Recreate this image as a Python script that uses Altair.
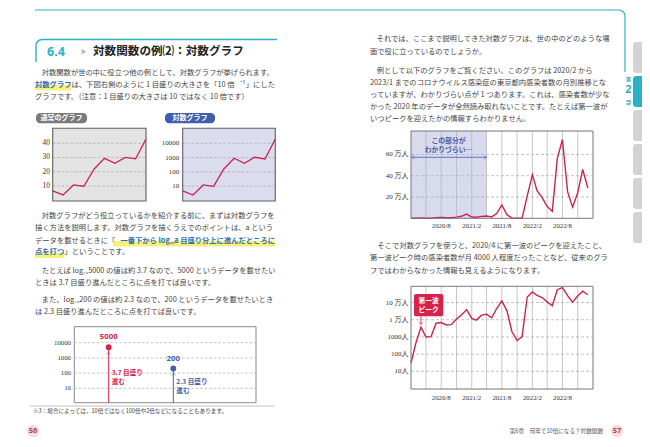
import altair as alt
import pandas as pd

# ---------------- data ----------------
months = pd.date_range("2020-02-01", "2023-01-01", freq="MS")
tokyo_cases = [30, 430, 3750, 1000, 1050, 6300, 6900, 5000, 5200, 11000, 19000,
               39000, 12000, 9500, 18500, 21000, 13000, 45000, 126000, 33000, 2000, 620, 1040,
               210000, 410000, 260000, 195000, 110000, 65000, 560000, 740000, 250000, 105000,
               240000, 460000,
               285000]
grid_months = pd.date_range("2020-05-01", "2022-11-01", freq="3MS")
xtick_months = pd.to_datetime(["2020-08-01", "2021-02-01", "2021-08-01", "2022-02-01", "2022-08-01"])
xtick_labels = ["2020/8", "2021/2", "2021/8", "2022/2", "2022/8"]
lin_ticks = [200000, 400000, 600000]
lin_tick_labels = ["20 万人", "40 万人", "60 万人"]
log_ticks = [10, 100, 1000, 10000, 100000]
log_tick_labels = ["10人", "100人", "1000人", "1 万人", "10 万人"]
hard_span = pd.to_datetime(["2020-02-01", "2021-05-01"])
peak_month = pd.to_datetime(["2020-04-01"])
peak_cases = [3750]

step = list(range(1, 11))
normal_values = [6.5, 3.7, 10.7, 9.8, 21.9, 29.4, 25.9, 30.1, 29.0, 43.0]
log_values = [4.5, 2.3, 11.8, 9.5, 157, 885, 394, 1040, 790, 20100]
normal_ticks = [10, 20, 30, 40]
small_log_ticks = [10, 100, 1000, 10000]

demo_labels = ["5000", "200"]
demo_values = [5000, 200]
demo_ticks = [10, 100, 1000, 10000]

# ---------------- tables ----------------
df_cases = pd.DataFrame({"month": months, "cases": tokyo_cases})
df_grid = pd.DataFrame({"month": grid_months})
df_xt = pd.DataFrame({"month": xtick_months, "label": xtick_labels})
df_lin = pd.DataFrame({"v": lin_ticks, "label": lin_tick_labels})
df_logt = pd.DataFrame({"v": log_ticks, "label": log_tick_labels})
df_hard = pd.DataFrame({"start": [hard_span[0]], "end": [hard_span[1]]})
df_peak = pd.DataFrame({"month": peak_month, "cases": peak_cases})
df_norm = pd.DataFrame({"step": step, "v": normal_values})
df_slog = pd.DataFrame({"step": step, "v": log_values})
df_nt = pd.DataFrame({"v": normal_ticks, "label": [str(t) for t in normal_ticks]})
df_lt = pd.DataFrame({"v": small_log_ticks, "label": [str(t) for t in small_log_ticks]})
df_demo = pd.DataFrame({"label": demo_labels, "value": demo_values})
df_dt = pd.DataFrame({"v": demo_ticks, "label": [str(t) for t in demo_ticks]})

# ---------------- style ----------------
JP = "Noto Sans CJK JP"
SERIF = "Liberation Serif, Noto Sans CJK JP"
INK = "#444444"
TEAL = "#2bb1c6"
RED = "#c8254d"
HL_BLUE = "#2b6fb6"
HL_YELLOW = "#f7f07c"
GRID = "#a8a8a8"
FRAME = "#777777"
BODY = 7.3
OFF = 8


def P(v):
    return v - OFF


ONE = alt.InlineData(values=[{"k": 0}])


def text(s, x, y, size=BODY, color=INK, weight="normal", align="left", font=JP):
    return alt.Chart(ONE).mark_text(text=s, align=align, baseline="middle", fontSize=size,
                                    font=font, fontWeight=weight, color=color).encode(
        x=alt.value(P(x)), y=alt.value(P(y)))


def box(x1, y1, x2, y2, **kw):
    return alt.Chart(ONE).mark_rect(**kw).encode(
        x=alt.value(P(x1)), x2=alt.value(P(x2)), y=alt.value(P(y1)), y2=alt.value(P(y2)))


def seg(x1, y1, x2, y2, **kw):
    return alt.Chart(ONE).mark_rule(**kw).encode(
        x=alt.value(P(x1)), x2=alt.value(P(x2)), y=alt.value(P(y1)), y2=alt.value(P(y2)))


def corner(cx, cy, t1, t2, r=6, w=1.3, color=TEAL):
    return alt.Chart(ONE).mark_arc(theta=t1, theta2=t2, radius=r, radius2=r - w, color=color).encode(
        x=alt.value(P(cx)), y=alt.value(P(cy)))


layers = []

# ---------------- page decorations ----------------
layers += [
    seg(35, 10, 619, 10, color=TEAL, strokeWidth=1.2),
    corner(619, 16, 0, 1.5708, r=6.6, w=1.2),
    seg(625, 16, 625, 72, color=TEAL, strokeWidth=1.2),
    # section header frame
    seg(42, 39.5, 277, 39.5, color=TEAL, strokeWidth=1.4),
    corner(42, 45.5, 4.7124, 6.2832, r=6.7, w=1.4),
    seg(36, 45.5, 36, 62, color=TEAL, strokeWidth=1.4),
]
# right tabs
for (a, b), col in zip([(42, 73), (76, 107), (110, 141), (144, 175), (178, 209), (212, 243)],
                       ["#d3d3d3", TEAL, "#d3d3d3", "#d3d3d3", "#d3d3d3", "#d3d3d3"]):
    layers.append(box(633, a, 652, b, color=col, cornerRadius=3))
layers += [
    text("第", 628.5, 78.5, size=5, color=TEAL, align="center", weight="bold"),
    text("2", 628.5, 89.5, size=11, color=TEAL, align="center", weight="bold", font="Noto Sans"),
    text("部", 628.5, 101.5, size=5, color=TEAL, align="center", weight="bold"),
]

# header text
layers += [
    text("6.4", 47, 51.7, size=12.5, color=TEAL, weight="bold", font="Noto Sans"),
    alt.Chart(ONE).mark_point(shape="triangle-right", size=28, filled=True, color="#b5b5b5",
                              opacity=1).encode(x=alt.value(P(84)), y=alt.value(P(51.7))),
    text("対数関数の例⑵：対数グラフ", 93, 51.7, size=11.6, color="#222222", weight="bold"),
]

# ---------------- left page text ----------------
layers += [
    text("対数関数が世の中に役立つ他の例として、対数グラフが挙げられます。", 41.7, 72.7),
    box(35, 85, 71.5, 90.5, color=HL_YELLOW),
    text("対数グラフ", 35, 85, color=HL_BLUE, weight="bold"),
    text("は、下図右側のように 1 目盛りの大きさを「10 倍", 71.5, 85),
    text("*3", 240.5, 82.5, size=4.5),
    text("」にした", 275, 85, align="right"),
    text("グラフです。（注意：1 目盛りの大きさは 10 ではなく 10 倍です）", 35, 97.3),

    text("対数グラフがどう役立っているかを紹介する前に、まずは対数グラフを", 41.7, 216),
    text("描く方法を説明します。対数グラフを描くうえでのポイントは、a という", 35, 228.3),
    box(113, 241, 275, 246.5, color=HL_YELLOW),
    text("データを載せるときに「", 35, 240.7),
    text("一番下から log₁₀a 目盛り分上に進んだところに", 275, 240.7, color=HL_BLUE, weight="bold",
         align="right"),
    box(35, 252.5, 64.5, 258, color=HL_YELLOW),
    text("点を打つ", 35, 252.3, color=HL_BLUE, weight="bold"),
    text("」ということです。", 64.5, 252.3),
    text("たとえば log₁₀5000 の値は約 3.7 なので、5000 というデータを載せたい", 41.7, 271),
    text("ときは 3.7 目盛り進んだところに点を打てば良いです。", 35, 282.7),
    text("また、log₁₀200 の値は約 2.3 なので、200 というデータを載せたいとき", 41.7, 300),
    text("は 2.3 目盛り進んだところに点を打てば良いです。", 35, 311.7),
    seg(30, 406, 275, 406, color="#9a9a9a", strokeWidth=0.6),
    text("※3：場合によっては，10倍ではなく100倍や2倍などになることもあります。", 33, 410.5, size=5.6),
]

# ---------------- right page text ----------------
layers += [
    text("それでは、ここまで説明してきた対数グラフは、世の中のどのような場", 376.7, 39.3),
    text("面で役に立っているのでしょうか。", 370, 51.7),
    text("例として以下のグラフをご覧ください。このグラフは 2020/2 から", 376.7, 71),
    text("2023/1 までのコロナウイルス感染症の東京都内感染者数の月別推移とな", 370, 82.7),
    text("っていますが、わかりづらい点が 1 つあります。これは、感染者数が少な", 370, 95),
    text("かった 2020 年のデータが全然読み取れないことです。たとえば第一波が", 370, 107.3),
    text("いつピークを迎えたかの情報すらわかりません。", 370, 119.3),
    text("そこで対数グラフを使うと、2020/4 に第一波のピークを迎えたこと、", 377.5, 246),
    text("第一波ピーク時の感染者数が月 4000 人程度だったことなど、従来のグラ", 370, 258.3),
    text("フではわからなかった情報も見えるようになります。", 370, 270.7),
]

# ---------------- footer ----------------
layers += [
    alt.Chart(ONE).mark_circle(size=160, color="#fadcdc", opacity=1).encode(
        x=alt.value(P(33)), y=alt.value(P(431))),
    text("56", 33, 431, size=7.5, color="#b0473c", weight="bold", align="center", font="Noto Sans"),
    alt.Chart(ONE).mark_circle(size=160, color="#fadcdc", opacity=1).encode(
        x=alt.value(P(617)), y=alt.value(P(431))),
    text("57", 617, 431, size=7.5, color="#b0473c", weight="bold", align="center", font="Noto Sans"),
    text("第6章　何年で10倍になる？対数関数", 603, 431, size=5.6, color="#555555", align="right"),
]

# ---------------- small charts (left page) ----------------
SXN = alt.Scale(domain=[1, 10], range=[P(52.7), P(146)], nice=False, zero=False)
SYN = alt.Scale(domain=[0, 50.5], range=[P(200.2), P(128.3)], nice=False, zero=False)
SXL = alt.Scale(domain=[1, 10], range=[P(182.7), P(275.3)], nice=False, zero=False)
SYL = alt.Scale(type="log", domain=[0.883, 113000], range=[P(201), P(128.3)], nice=False)

layers += [
    box(36, 113, 87, 123.3, color="#7a7a7a", cornerRadius=4),
    text("通常のグラフ", 61.5, 118.2, size=7, color="white", weight="bold", align="center"),
    box(165, 113, 215, 123.3, color="#3d5fae", cornerRadius=4),
    text("対数グラフ", 190, 118.2, size=7, color="white", weight="bold", align="center"),
    box(52.7, 128.3, 146, 201, color="#e4e4e4"),
    box(182.7, 128.3, 275.3, 201, color="#dcdcef"),
    alt.Chart(df_nt).mark_rule(color=GRID, strokeDash=[2.5, 2], strokeWidth=0.7).encode(
        y=alt.Y("v:Q", scale=SYN, axis=None), x=alt.value(P(52.7)), x2=alt.value(P(146))),
    alt.Chart(df_nt).mark_text(align="right", baseline="middle", fontSize=7.4, font=SERIF,
                               color="#333333").encode(
        y=alt.Y("v:Q", scale=SYN, axis=None), x=alt.value(P(50)), text="label:N"),
    alt.Chart(df_norm).mark_line(color=RED, strokeWidth=1.3).encode(
        x=alt.X("step:Q", scale=SXN, axis=None), y=alt.Y("v:Q", scale=SYN, axis=None)),
    box(52.7, 128.3, 146, 201, fillOpacity=0, stroke="#5f5f5f", strokeWidth=1.1),
    alt.Chart(df_lt).mark_rule(color=GRID, strokeDash=[2.5, 2], strokeWidth=0.7).encode(
        y=alt.Y("v:Q", scale=SYL, axis=None), x=alt.value(P(182.7)), x2=alt.value(P(275.3))),
    alt.Chart(df_lt).mark_text(align="right", baseline="middle", fontSize=7, font=SERIF,
                               color="#333333").encode(
        y=alt.Y("v:Q", scale=SYL, axis=None), x=alt.value(P(179.3)), text="label:N"),
    alt.Chart(df_slog).mark_line(color=RED, strokeWidth=1.3).encode(
        x=alt.X("step:Q", scale=SXL, axis=None), y=alt.Y("v:Q", scale=SYL, axis=None)),
    box(182.7, 128.3, 275.3, 201, fillOpacity=0, stroke="#5f5f5f", strokeWidth=1.1),
]

# ---------------- demo chart (bottom left) ----------------
DX = alt.Scale(type="point", domain=demo_labels, range=[P(108.7), P(173.3)], padding=0)
DY = alt.Scale(type="log", domain=[1.13, 113000], range=[P(402.7), P(326.7)], nice=False)
DC = alt.Color("label:N", scale=alt.Scale(domain=demo_labels, range=["#d6244c", "#3f63aa"]),
               legend=None)
dx = alt.X("label:N", scale=DX, axis=None)
dy = alt.Y("value:Q", scale=DY, axis=None)
red_only = alt.datum.label == "5000"
blue_only = alt.datum.label == "200"
NOTE = dict(align="left", baseline="middle", dx=3, fontSize=6.6, fontWeight="bold", font=JP)
layers += [
    box(74.3, 326.7, 256, 402.7, color="white", stroke="#8a8a8a", strokeWidth=1),
    alt.Chart(df_dt).mark_rule(color=GRID, strokeDash=[2.5, 2], strokeWidth=0.7).encode(
        y=alt.Y("v:Q", scale=DY, axis=None), x=alt.value(P(74.3)), x2=alt.value(P(256))),
    alt.Chart(df_dt).mark_text(align="right", baseline="middle", fontSize=6.8, font=SERIF,
                               color="#333333").encode(
        y=alt.Y("v:Q", scale=DY, axis=None), x=alt.value(P(71)), text="label:N"),
    alt.Chart(df_demo).mark_rule(strokeWidth=1).encode(x=dx, y=dy, y2=alt.value(P(402.7)), color=DC),
    alt.Chart(df_demo).mark_point(shape="M -1 1 L 0 0 L 1 1", size=14, filled=False,
                                  strokeWidth=0.9, yOffset=5).encode(x=dx, y=dy, color=DC),
    alt.Chart(df_demo).mark_circle(size=34, opacity=1).encode(x=dx, y=dy, color=DC),
    alt.Chart(df_demo).mark_text(dy=-10, fontSize=7.8, fontWeight="bold", font="Noto Sans",
                                 baseline="middle").encode(x=dx, y=dy, text="label:N", color=DC),
    alt.Chart(df_demo).transform_filter(red_only).mark_text(text="3.7 目盛り", **NOTE).encode(
        x=dx, y=alt.value(P(372.6)), color=DC),
    alt.Chart(df_demo).transform_filter(red_only).mark_text(text="進む", **NOTE).encode(
        x=dx, y=alt.value(P(381.8)), color=DC),
    alt.Chart(df_demo).transform_filter(blue_only).mark_text(text="2.3 目盛り", **NOTE).encode(
        x=dx, y=alt.value(P(382.2)), color=DC),
    alt.Chart(df_demo).transform_filter(blue_only).mark_text(text="進む", **NOTE).encode(
        x=dx, y=alt.value(P(391.4)), color=DC),
]

# ---------------- Tokyo charts (right page) ----------------
TX = alt.Scale(domain=[alt.DateTime(year=2020, month=2, date=1),
                       alt.DateTime(year=2023, month=2, date=1)],
               range=[P(411), P(593)])
tx = alt.X("month:T", scale=TX, axis=None)


def tokyo_panel(top, bottom, yscale, tick_df, label_y):
    ty = alt.Y("v:Q", scale=yscale, axis=None)
    out = [
        box(411, top, 593, bottom, color="white"),
        alt.Chart(df_grid).mark_rule(color="#c8c8c8", strokeWidth=1).encode(
            x=tx, y=alt.value(P(top)), y2=alt.value(P(bottom))),
        alt.Chart(tick_df).mark_rule(color=GRID, strokeDash=[3, 2], strokeWidth=0.7).encode(
            y=ty, x=alt.value(P(411)), x2=alt.value(P(593))),
        alt.Chart(tick_df).mark_text(align="right", baseline="middle", fontSize=7, font=SERIF,
                                     color="#333333").encode(
            y=ty, x=alt.value(P(408.5)), text="label:N"),
        alt.Chart(df_xt).mark_text(align="center", baseline="middle", fontSize=6.8, font=SERIF,
                                   color="#333333").encode(
            x=tx, y=alt.value(P(label_y)), text="label:N"),
    ]
    return out


Y1 = alt.Scale(domain=[0, 820000], range=[P(218.3), P(131)], nice=False, zero=False)
Y2 = alt.Scale(type="log", domain=[0.94, 880000], range=[P(389), P(286.3)], nice=False)

layers += tokyo_panel(131, 218.3, Y1, df_lin, 226)
layers += [
    alt.Chart(df_hard).mark_rect(color="#a9acd9", opacity=0.45).encode(
        x=alt.X("start:T", scale=TX, axis=None), x2="end:T",
        y=alt.value(P(131)), y2=alt.value(P(218.3))),
    alt.Chart(df_hard).mark_rule(color="#4a5aa6", strokeWidth=0.8).encode(
        x=alt.X("start:T", scale=TX, axis=None), x2="end:T", y=alt.value(P(157.3))),
    alt.Chart(df_hard).mark_point(shape="M 1.4 -1 L 0 0 L 1.4 1", size=14, filled=False,
                                  color="#4a5aa6", strokeWidth=0.8, xOffset=0.8).encode(
        x=alt.X("start:T", scale=TX, axis=None), y=alt.value(P(157.3))),
    alt.Chart(df_hard).mark_point(shape="M -1.4 -1 L 0 0 L -1.4 1", size=14, filled=False,
                                  color="#4a5aa6", strokeWidth=0.8).encode(
        x=alt.X("end:T", scale=TX, axis=None), y=alt.value(P(157.3))),
    text("この部分が", 448.5, 140.6, size=6.8, color="#4a5aa6", weight="bold", align="center"),
    text("わかりづらい…", 448.5, 149.8, size=6.8, color="#4a5aa6", weight="bold", align="center"),
    alt.Chart(df_cases).mark_line(color=RED, strokeWidth=1.4).encode(
        x=tx, y=alt.Y("cases:Q", scale=Y1, axis=None)),
    box(411, 131, 593, 218.3, fillOpacity=0, stroke=FRAME, strokeWidth=1),
]

layers += tokyo_panel(286.3, 389, Y2, df_logt, 398)
layers += [
    alt.Chart(df_cases).mark_line(color=RED, strokeWidth=1.4).encode(
        x=tx, y=alt.Y("cases:Q", scale=Y2, axis=None)),
    box(411, 286.3, 593, 389, fillOpacity=0, stroke=FRAME, strokeWidth=1),
    box(414, 294, 443.3, 316.3, color="#d7234b", cornerRadius=2),
    text("第一波", 428.7, 300.8, size=6.8, color="white", weight="bold", align="center"),
    text("ピーク", 428.7, 310.2, size=6.8, color="white", weight="bold", align="center"),
    alt.Chart(df_peak).mark_rule(color="#d7234b", strokeWidth=0.9).encode(
        x=tx, y=alt.value(P(316.3)), y2=alt.value(P(324.5))),
    alt.Chart(df_peak).mark_point(shape="M -1 -1.2 L 0 0 L 1 -1.2", size=14, filled=False,
                                  color="#d7234b", strokeWidth=0.9).encode(
        x=tx, y=alt.value(P(324.5))),
]

chart = alt.layer(*layers).resolve_scale(
    x="independent", y="independent", color="independent"
).properties(
    width=634, height=431, autosize=alt.AutoSizeParams(type="none"), padding=0,
    background="white"
).configure_view(strokeWidth=0)

chart.save("out.html", embed_options={"renderer": "svg", "actions": False})
